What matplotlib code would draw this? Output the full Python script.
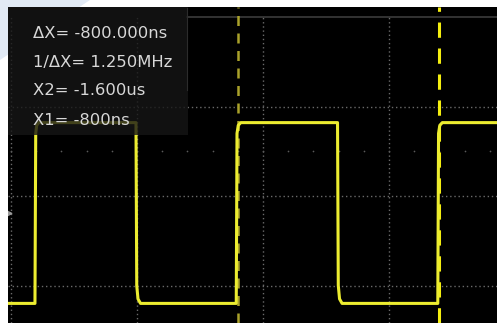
import matplotlib
matplotlib.use("Agg")
import matplotlib.pyplot as plt
from matplotlib.patches import Rectangle, Polygon

# trace samples (time in ns, level in divisions)
sig_t = [-2512, -2405, -2402, -2398, -2390,
         -2004, -2001, -1996, -1986,
         -1606, -1603, -1598, -1588,
         -1204, -1201, -1196, -1186,
         -806, -803, -798, -788, -571]
sig_v = [-1.20, -1.20, 0.70, 0.79, 0.82,
         0.82, -1.00, -1.15, -1.20,
         -1.20, 0.70, 0.79, 0.82,
         0.82, -1.00, -1.15, -1.20,
         -1.20, 0.70, 0.79, 0.82, 0.82]

cursor_x2 = -1600  # ns
cursor_x1 = -800   # ns
gnd_level = -0.19

grid_t = [-2500, -2000, -1500, -1000]
grid_v = [-1, 0, 1]
minor_t = list(range(-2500, -500, 100))
minor_v = 0.5
top_v = 2

readout = ["\u0394X= -800.000ns", "1/\u0394X= 1.250MHz", "X2= -1.600us", "X1= -800ns"]

W, H = 497, 323
fig = plt.figure(figsize=(W / 100, H / 100), dpi=100, facecolor="white")
# light blue fade in the top-left corner of the screenshot margin
fig.patches.append(Polygon([(0, 1), (90 / W, 1), (0, 1 - 60 / H)], closed=True,
                           transform=fig.transFigure, facecolor="#e2eaf5",
                           edgecolor="none", zorder=-5))

ax = fig.add_axes([8 / W, 0, (W - 8) / W, (H - 7) / H])
ax.set_facecolor("black")
ax.set_xlim(-2512, -571)
ax.set_ylim(-1.419, 2.112)
ax.set_axis_off()
ax.add_patch(Rectangle((0, 0), 1, 1, transform=ax.transAxes, facecolor="black",
                       edgecolor="none", zorder=0))

# graticule
ax.plot([-1800, -571], [top_v, top_v], color="#3c3c3c", lw=1.2, zorder=1)
for v in grid_v:
    ax.plot([-2512, -571], [v, v], color="#6a6a6a", lw=1, ls=(0, (1, 2)), zorder=1)
for t in grid_t:
    ax.plot([t, t], [-1.42, top_v], color="#6a6a6a", lw=1, ls=(0, (1, 2)), zorder=1)
ax.scatter(minor_t, [minor_v] * len(minor_t), s=1.5, color="#5a5a5a", lw=0, zorder=1)
ax.plot([-2508], [gnd_level], marker=">", ms=3.5, color="#9a9a9a", zorder=2)

# cursors
ax.axvline(cursor_x2, color="#aaa22a", lw=1.8, ls=(0, (4, 3)), zorder=3)
ax.axvline(cursor_x1, color="#f4ee10", lw=2.2, ls=(0, (5, 3.5)), zorder=4)

# trace
ax.plot(sig_t, sig_v, color="#ecec30", lw=2.2, solid_joinstyle="round", zorder=5)

# readout box (semi-opaque, dims the trace behind it)
ax.add_patch(Rectangle((0, 1 - 128 / 316), 180 / 489, 128 / 316, transform=ax.transAxes,
                       facecolor="#161616", alpha=0.8, edgecolor="none", zorder=6))
ax.plot([-1800, -1800], [top_v + 0.1, 1.18], color="#2c2c2c", lw=0.8, zorder=6)

ys = [33, 62, 90, 121]
for txt, y in zip(readout, ys):
    ax.text(25 / 489, 1 - (y - 7) / 316, txt, transform=ax.transAxes, color="#d8d8d8",
            fontsize=11.8, family="DejaVu Sans", va="center", ha="left", zorder=7)

fig.savefig("out.png", dpi=100, facecolor=fig.get_facecolor())
